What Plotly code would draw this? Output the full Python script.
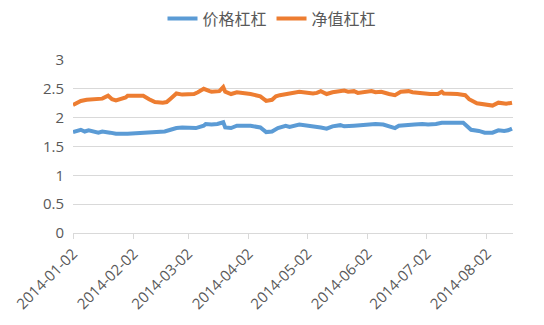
import plotly.graph_objects as go

# 价格杠杠 (blue)
price_dates = ["2014-01-02","2014-01-06","2014-01-08","2014-01-10","2014-01-15","2014-01-17","2014-01-21",
               "2014-01-24","2014-01-30","2014-02-07","2014-02-13","2014-02-18","2014-02-21","2014-02-24",
               "2014-02-27","2014-03-06","2014-03-10","2014-03-11","2014-03-14","2014-03-17","2014-03-20",
               "2014-03-21","2014-03-24","2014-03-27","2014-03-31","2014-04-03","2014-04-08","2014-04-09",
               "2014-04-11","2014-04-14","2014-04-16","2014-04-17","2014-04-21","2014-04-23","2014-04-28",
               "2014-05-05","2014-05-07","2014-05-09","2014-05-12","2014-05-15","2014-05-19","2014-05-21",
               "2014-05-26","2014-05-29","2014-06-04","2014-06-06","2014-06-10","2014-06-13","2014-06-16",
               "2014-06-18","2014-06-23","2014-06-26","2014-06-30","2014-07-03","2014-07-07","2014-07-10",
               "2014-07-21","2014-07-23","2014-07-25","2014-07-29","2014-08-01","2014-08-05","2014-08-08",
               "2014-08-11","2014-08-13","2014-08-15"]
price_lev = [1.75,1.79,1.76,1.78,1.74,1.76,1.74,
             1.72,1.72,1.74,1.75,1.76,1.79,1.82,
             1.83,1.82,1.86,1.89,1.88,1.89,1.92,
             1.83,1.82,1.86,1.86,1.86,1.83,1.81,
             1.75,1.76,1.79,1.82,1.86,1.84,1.88,
             1.85,1.85,1.83,1.81,1.85,1.87,1.85,
             1.86,1.87,1.88,1.89,1.88,1.85,1.82,
             1.86,1.88,1.88,1.89,1.88,1.89,1.91,
             1.91,1.85,1.79,1.77,1.74,1.74,1.78,
             1.77,1.78,1.81]

# 净值杠杠 (orange)
nav_dates = ["2014-01-02","2014-01-06","2014-01-09","2014-01-14","2014-01-17","2014-01-20","2014-01-22",
             "2014-01-24","2014-01-27","2014-01-29","2014-01-30","2014-02-07","2014-02-10","2014-02-13",
             "2014-02-17","2014-02-19","2014-02-21","2014-02-24","2014-02-27","2014-03-05","2014-03-07",
             "2014-03-10","2014-03-13","2014-03-14","2014-03-18","2014-03-20","2014-03-21","2014-03-24",
             "2014-03-27","2014-03-31","2014-04-03","2014-04-08","2014-04-10","2014-04-11","2014-04-14",
             "2014-04-16","2014-04-18","2014-04-22","2014-04-24","2014-04-28","2014-05-05","2014-05-07",
             "2014-05-09","2014-05-12","2014-05-15","2014-05-19","2014-05-21","2014-05-23","2014-05-26",
             "2014-05-28","2014-05-30","2014-06-04","2014-06-06","2014-06-09","2014-06-13","2014-06-16",
             "2014-06-19","2014-06-23","2014-06-25","2014-06-30","2014-07-04","2014-07-08","2014-07-10",
             "2014-07-11","2014-07-16","2014-07-18","2014-07-22","2014-07-24","2014-07-28","2014-07-31",
             "2014-08-04","2014-08-05","2014-08-08","2014-08-11","2014-08-12","2014-08-15"]
nav_lev = [2.22,2.29,2.31,2.32,2.33,2.38,2.32,
           2.30,2.33,2.35,2.38,2.38,2.32,2.27,
           2.26,2.27,2.33,2.42,2.40,2.41,2.44,
           2.50,2.46,2.45,2.46,2.53,2.45,2.41,
           2.44,2.43,2.41,2.37,2.32,2.29,2.31,
           2.37,2.39,2.41,2.42,2.45,2.42,2.43,
           2.46,2.41,2.44,2.46,2.47,2.45,2.46,
           2.43,2.44,2.46,2.44,2.45,2.41,2.39,
           2.45,2.46,2.44,2.42,2.41,2.41,2.45,
           2.42,2.42,2.41,2.39,2.32,2.25,2.24,
           2.22,2.21,2.26,2.24,2.24,2.26]

tick_dates = ["2014-01-02","2014-02-02","2014-03-02","2014-04-02",
              "2014-05-02","2014-06-02","2014-07-02","2014-08-02"]
y_ticks = [0, 0.5, 1, 1.5, 2, 2.5, 3]

fig = go.Figure()
fig.add_trace(go.Scatter(x=price_dates, y=price_lev, mode="lines", name="价格杠杠",
                         line=dict(color="#5B9BD5", width=4)))
fig.add_trace(go.Scatter(x=nav_dates, y=nav_lev, mode="lines", name="净值杠杠",
                         line=dict(color="#ED7D31", width=4)))

font_lat = "Open Sans, Liberation Sans, sans-serif"
fig.update_layout(
    width=544, height=325,
    margin=dict(l=71, r=31, t=60, b=90),
    plot_bgcolor="white", paper_bgcolor="white",
    font=dict(family=font_lat, color="#595959", size=14),
    showlegend=True,
    legend=dict(orientation="h", xref="container", x=0.5, xanchor="center",
                yref="container", y=0.995, yanchor="top",
                font=dict(family="Noto Sans CJK SC", size=16, color="#595959"),
                itemwidth=30, tracegroupgap=0),
    xaxis=dict(type="date", range=["2014-01-02", "2014-08-15 12:00"],
               tickvals=tick_dates, ticktext=tick_dates, tickangle=-45,
               showgrid=False, showline=True, linecolor="#D9D9D9", linewidth=1,
               ticks="outside", ticklen=5, tickcolor="#D9D9D9",
               tickfont=dict(size=15, color="#595959"), zeroline=False),
    yaxis=dict(range=[0, 3], tickvals=y_ticks, showgrid=True, gridcolor="#D9D9D9",
               gridwidth=1, zeroline=False, showline=False, ticks="",
               ticklabelstandoff=8,
               tickfont=dict(size=15, color="#595959")),
)

fig.write_html("out.html")
